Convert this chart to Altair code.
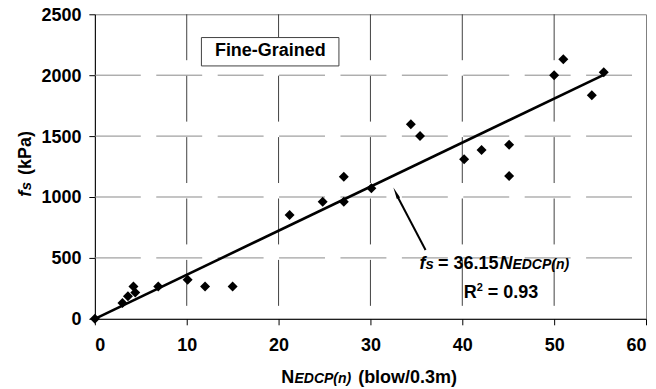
import altair as alt
import pandas as pd

# ---- values ----
n_edcp = [0, 3.0, 3.6, 4.2, 4.4, 6.9, 10.1, 12.0, 15.0, 21.2, 24.8, 27.1, 27.1,
          30.1, 34.4, 35.4, 40.2, 42.1, 45.1, 45.1, 50.0, 51.0, 54.1, 55.4]
fs_kpa = [0, 130, 185, 265, 215, 265, 320, 265, 265, 852, 961, 961, 1166,
          1071, 1598, 1500, 1309, 1385, 1429, 1172, 2000, 2131, 1836, 2024]
trend_n = [0, 55.4]
trend_fs = [0, 2003]
x_ticks = [0, 10, 20, 30, 40, 50, 60]
y_ticks = [0, 500, 1000, 1500, 2000, 2500]

FONT = "Liberation Sans"
W, H = 552, 305
DASH = [46, 15.5]

xs = alt.Scale(domain=[0, 60], nice=False, zero=False)
ys = alt.Scale(domain=[0, 2500], nice=False, zero=False)

x_axis = alt.Axis(values=x_ticks, labelPadding=12, title=None, format="d",
                  grid=False)
y_axis = alt.Axis(values=y_ticks, labelPadding=8, title=None, format="d",
                  grid=False, labelOffset=1)


def X(field="N:Q"):
    return alt.X(field, scale=xs, axis=x_axis)


def Y(field="fs:Q"):
    return alt.Y(field, scale=ys, axis=y_axis)


def dtext(n, fs, txt, size=18, italic=False, dx=0, dy=0, align="left"):
    df = pd.DataFrame({"N": [n], "fs": [fs]})
    return alt.Chart(df).mark_text(
        text=txt, font=FONT, fontSize=size, fontWeight="bold",
        fontStyle="italic" if italic else "normal", align=align,
        baseline="alphabetic", dx=dx, dy=dy, color="black",
    ).encode(x=X(), y=Y())


def ptext(px, py, txt, size=18, italic=False, dx=0, angle=0):
    df = pd.DataFrame({"k": [0]})
    kw = dict(text=txt, font=FONT, fontSize=size, fontWeight="bold",
              fontStyle="italic" if italic else "normal", align="left",
              baseline="alphabetic", dx=dx, color="black")
    if angle:
        kw["angle"] = angle
    return alt.Chart(df).mark_text(**kw).encode(
        x=alt.value(px), y=alt.value(py))


# dashed gridlines (drawn as rules so the dash pattern starts top / left)
vgrid_df = pd.DataFrame({"N": x_ticks[1:-1],
                         "top": [y_ticks[-1]] * (len(x_ticks) - 2),
                         "bot": [y_ticks[0]] * (len(x_ticks) - 2)})
hgrid_df = pd.DataFrame({"fs": y_ticks[1:-1],
                         "left": [x_ticks[0]] * (len(y_ticks) - 2),
                         "right": [x_ticks[-1]] * (len(y_ticks) - 2)})

vgrid = alt.Chart(vgrid_df).mark_rule(
    color="#404040", strokeWidth=1, strokeDash=DASH
).encode(x=X(), y=Y("top:Q"), y2="bot:Q")

hgrid = alt.Chart(hgrid_df).mark_rule(
    color="#8a8a8a", strokeWidth=1, strokeDash=DASH
).encode(y=Y(), x=X("left:Q"), x2="right:Q")

pts = pd.DataFrame({"N": n_edcp, "fs": fs_kpa})
trend = pd.DataFrame({"N": trend_n, "fs": trend_fs})

points = alt.Chart(pts).mark_point(
    shape="diamond", filled=True, color="black", size=100, opacity=1
).encode(x=X(), y=Y())

line = alt.Chart(trend).mark_line(color="black", strokeWidth=2.6).encode(
    x=X(), y=Y())

box = alt.Chart(pd.DataFrame({"N": [11.6], "N2": [26.57], "fs": [2076],
                              "fs2": [2309]})).mark_rect(
    fill="white", stroke="#404040", strokeWidth=1
).encode(x=X(), x2="N2:Q", y=Y(), y2="fs2:Q")

box_text = dtext(19.1, 2154, "Fine-Grained", align="center")

arrow_line = alt.Chart(pd.DataFrame({"N": [36.0], "N2": [32.9], "fs": [565],
                                     "fs2": [1010]})).mark_rule(
    color="black", strokeWidth=2
).encode(x=X(), x2="N2:Q", y=Y(), y2="fs2:Q")

arrow_head = alt.Chart(pd.DataFrame({"N": [32.5], "fs": [1079]})).mark_point(
    shape="M0,0L-0.3,2L0.3,2Z", filled=True, color="black", size=144,
    opacity=1, angle=335
).encode(x=X(), y=Y())

# equation annotation
eq_n, eq_fs = 35.35, 405
eq = [
    dtext(eq_n, eq_fs, "f", italic=True, dx=0),
    dtext(eq_n, eq_fs, "s", size=15, italic=True, dx=6),
    dtext(eq_n, eq_fs, "= 36.15", dx=18.5),
    dtext(eq_n, eq_fs, "N", italic=True, dx=80),
    dtext(eq_n, eq_fs, "EDCP(n)", size=14, italic=True, dx=93),
]
r_n, r_fs = 40.16, 172
r2 = [
    dtext(r_n, r_fs, "R", dx=0),
    dtext(r_n, r_fs, "2", size=11, dx=13, dy=-7),
    dtext(r_n, r_fs, "= 0.93", dx=24),
]

# axis titles (mixed styles)
xt = [
    ptext(186.7, 369, "N"),
    ptext(186.7, 369, "EDCP(n)", size=14, italic=True, dx=13.3),
    ptext(186.7, 369, "(blow/0.3m)", dx=77),
]
yt = [
    ptext(-64, 182.7, "f", italic=True, angle=270, dx=0),
    ptext(-64, 182.7, "s", size=15, italic=True, angle=270, dx=6.5),
    ptext(-64, 182.7, "(kPa)", angle=270, dx=21.7),
]

chart = alt.layer(
    vgrid, hgrid, line, points, box, box_text, arrow_line, arrow_head,
    *eq, *r2, *xt, *yt
).properties(
    width=W, height=H,
    padding={"left": 87, "top": 6, "right": 2, "bottom": 70},
    autosize=alt.AutoSizeParams(type="none"),
    background="white",
).configure_view(
    stroke="#808080", strokeWidth=1
).configure_axis(
    domainColor="black", domainWidth=1, tickColor="black",
    tickSize=6, tickWidth=1, labelFont=FONT, labelFontSize=18,
    labelFontWeight="bold", labelColor="black",
)

chart.save("out.html", embed_options={"renderer": "svg", "actions": False})
